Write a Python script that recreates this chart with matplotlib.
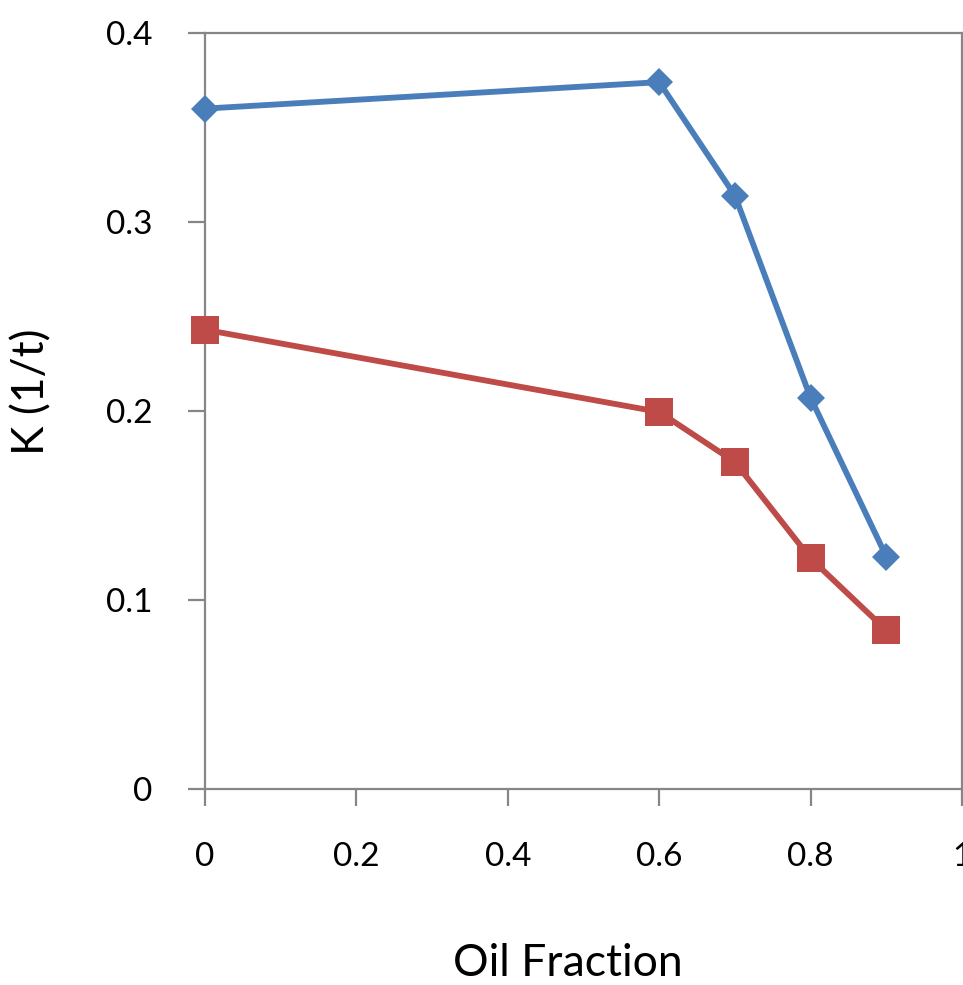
import numpy as np
import matplotlib.pyplot as plt

# data
oil_fraction = [0, 0.6, 0.7, 0.8, 0.9]
k_blue = [0.360, 0.374, 0.314, 0.207, 0.123]
k_red = [0.243, 0.1995, 0.173, 0.122, 0.084]

x_ticks = [0, 0.2, 0.4, 0.6, 0.8, 1]
x_labels = ['0', '0.2', '0.4', '0.6', '0.8', '1']
y_ticks = [0, 0.1, 0.2, 0.3, 0.4]
y_labels = ['0', '0.1', '0.2', '0.3', '0.4']

blue = '#4A7EBB'
red = '#BE4B48'
axis_gray = '#868686'

plt.rcParams['font.family'] = ['Lato', 'DejaVu Sans']

fig = plt.figure(figsize=(9.63, 9.85), dpi=100)
ax = fig.add_axes([205 / 963, 1 - 789 / 985, 757 / 963, 756 / 985])

ax.plot(oil_fraction, k_blue, color=blue, lw=4.2, marker='D', ms=14,
        markeredgewidth=0, zorder=3, clip_on=False)
ax.plot(oil_fraction, k_red, color=red, lw=4.2, marker='s', ms=20,
        markeredgewidth=0, zorder=3, clip_on=False)

ax.set_xlim(0, 1)
ax.set_ylim(0, 0.4)
ax.set_xticks(x_ticks)
ax.set_xticklabels(x_labels)
ax.set_yticks(y_ticks)
ax.set_yticklabels(y_labels)

for s in ax.spines.values():
    s.set_color(axis_gray)
    s.set_linewidth(1.6)

ax.tick_params(axis='both', direction='out', length=12, width=1.6,
               color=axis_gray, labelsize=24, labelcolor='black')
ax.tick_params(axis='y', pad=26)
ax.tick_params(axis='x', pad=26)

ax.set_xlabel('Oil Fraction', fontsize=32)
ax.set_ylabel('K (1/t)', fontsize=32)
ax.xaxis.set_label_coords((568 - 205) / 757, -(964 - 789) / 756, transform=ax.transAxes)
ax.yaxis.set_label_coords(-(205 - 32) / 757, (789 - 392) / 756, transform=ax.transAxes)
ax.xaxis.label.set_va('center')
ax.yaxis.label.set_va('center')

fig.savefig('out.png', dpi=100)
